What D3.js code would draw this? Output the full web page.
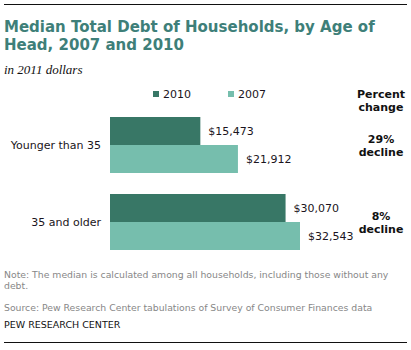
<!DOCTYPE html>
<html lang="en">
<head>
<meta charset="UTF-8">
<title>Median Total Debt of Households</title>
<script src="https://d3js.org/d3.v7.min.js"></script>
<style>
  body { margin: 0; background: #fff; }
  svg { display: block; }
  .title { font: bold 15px "DejaVu Sans", sans-serif; fill: #3e7f79; }
  .sub { font: italic 13px "Liberation Serif", serif; fill: #111; }
  .lab { font: 11px "DejaVu Sans", sans-serif; fill: #1a1420; }
  .bold { font: bold 11px "DejaVu Sans", sans-serif; fill: #111; }
  .note { font: 9.3px "DejaVu Sans", sans-serif; fill: #878787; }
  .pew { font: 9.5px "DejaVu Sans", sans-serif; fill: #111; }
</style>
</head>
<body>
<div id="chart"></div>
<script>
const categories = ["Younger than 35", "35 and older"];
const years = ["2010", "2007"];
const values2010 = [15473, 30070];
const values2007 = [21912, 32543];
const changeLabels = ["29%", "8%"];

const width = 411, height = 350;
const color = d3.scaleOrdinal().domain(years).range(["#387766", "#76bead"]);

const rows = categories.map((c, i) => ({
  cat: c,
  bars: [{ year: "2010", value: values2010[i] }, { year: "2007", value: values2007[i] }],
  change: changeLabels[i]
}));

const x = d3.scaleLinear().domain([0, d3.max(values2007)]).range([110, 300]);
const y = d3.scaleBand().domain(categories).range([117, 250]).paddingInner(21 / 77).paddingOuter(0);
const y1 = d3.scaleBand().domain(years).range([0, y.bandwidth()]);
const fmt = d3.format("$,");

const svg = d3.select("#chart").append("svg")
  .attr("width", width).attr("height", height)
  .attr("viewBox", [0, 0, width, height]);

// rules
svg.append("line").attr("x1", 4).attr("x2", 407).attr("y1", 4.5).attr("y2", 4.5).attr("stroke", "#111");
svg.append("line").attr("x1", 4).attr("x2", 407).attr("y1", 342.5).attr("y2", 342.5).attr("stroke", "#111");

svg.append("text").attr("class", "title").attr("x", 4).attr("y", 32).text("Median Total Debt of Households, by Age of");
svg.append("text").attr("class", "title").attr("x", 4).attr("y", 50).text("Head, 2007 and 2010");
svg.append("text").attr("class", "sub").attr("x", 4).attr("y", 74).text("in 2011 dollars");

// legend
const legend = svg.append("g").selectAll("g").data(years).join("g")
  .attr("transform", (d, i) => `translate(${[153, 228][i]},91)`);
legend.append("rect").attr("width", 6).attr("height", 6).attr("fill", d => color(d));
legend.append("text").attr("class", "lab").attr("x", 10).attr("y", 7).text(d => d);

svg.append("text").attr("class", "bold").attr("x", 381).attr("y", 98).attr("text-anchor", "middle").text("Percent");
svg.append("text").attr("class", "bold").attr("x", 381).attr("y", 111).attr("text-anchor", "middle").text("change");

const g = svg.append("g").selectAll("g").data(rows).join("g")
  .attr("transform", d => `translate(0,${y(d.cat)})`);

g.selectAll("rect").data(d => d.bars).join("rect")
  .attr("x", x(0))
  .attr("y", d => y1(d.year))
  .attr("width", d => x(d.value) - x(0))
  .attr("height", y1.bandwidth())
  .attr("fill", d => color(d.year));

g.selectAll(".val").data(d => d.bars).join("text")
  .attr("class", "lab val")
  .attr("x", d => x(d.value) + 8)
  .attr("y", d => y1(d.year) + y1.bandwidth() / 2)
  .attr("dy", "0.35em")
  .text(d => fmt(d.value));

g.append("text").attr("class", "lab")
  .attr("x", 101).attr("y", y.bandwidth() / 2).attr("dy", "0.35em")
  .attr("text-anchor", "end").text(d => d.cat);

g.append("text").attr("class", "bold")
  .attr("x", 381).attr("y", y.bandwidth() / 2 - 2).attr("text-anchor", "middle").text(d => d.change);
g.append("text").attr("class", "bold")
  .attr("x", 381).attr("y", y.bandwidth() / 2 + 11).attr("text-anchor", "middle").text("decline");

svg.append("text").attr("class", "note").attr("x", 4).attr("y", 278)
  .text("Note: The median is calculated among all households, including those without any");
svg.append("text").attr("class", "note").attr("x", 4).attr("y", 289).text("debt.");
svg.append("text").attr("class", "note").attr("x", 4).attr("y", 311)
  .text("Source: Pew Research Center tabulations of Survey of Consumer Finances data");
svg.append("text").attr("class", "pew").attr("x", 4).attr("y", 328).text("PEW RESEARCH  CENTER");
</script>
</body>
</html>
